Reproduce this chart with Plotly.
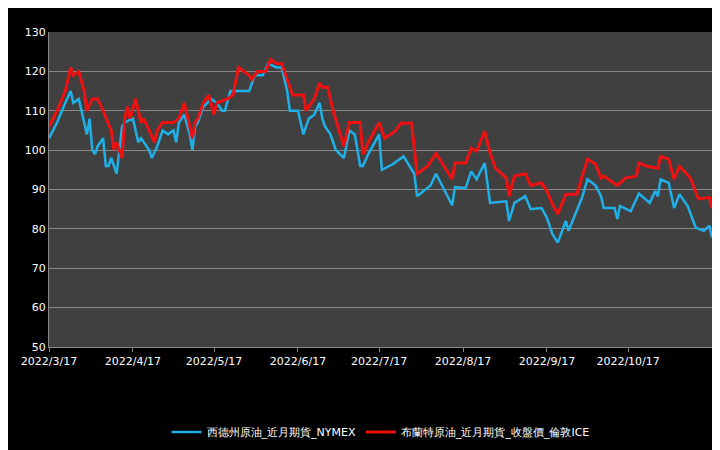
import pandas as pd
import plotly.graph_objects as go

start = pd.Timestamp("2022-03-17")

# WTI (NYMEX) - day offset from 2022/3/17, price
wti_days = [0,3,6,8,9,11,13,14,15,16,17,18,20,21,22,23,25,27,28,31,33,34,37,38,40,42,44,46,47,48,50,52,53,54,55,57,60,62,64,65,67,69,74,76,79,81,84,86,88,89,92,94,96,98,100,101,102,104,106,109,111,113,115,116,118,122,123,127,131,135,136,141,143,149,150,154,156,158,161,163,169,170,172,176,178,182,184,186,188,191,192,197,199,202,204,205,209,210,211,215,218,222,224,225,226,229,231,233,236,239,242,244,245]
wti_vals = [103,107,112,115,112,113,107,104,108,100,99,101,103,96,96,98,94,106,107,108,102,103,100,98,101,105,104,105,102,107,109,104,100,106,107,111,113,112,110,110,115,115,115,119,119,122,121,121,115,110,110,104,108,109,112,108,106,104,100,98,105,104,96,96,99,104,95,96.4,98.4,94,88.3,91,94,86,90.6,90.4,94.6,92.6,96.7,86.6,87,82,86.6,88.3,85,85.3,82.8,78.7,76.5,82,79.5,88,92.6,91,88.3,85.3,85.3,82.5,85.8,84.5,89,86.6,89.6,88.3,92.6,91.7,85.3,88.8,85.8,80.3,79.5,80.8,77.8]

# Brent (ICE)
brent_days = [0,3,6,8,9,11,13,14,16,18,20,23,24,25,27,28,29,30,32,34,35,37,39,40,42,46,48,50,51,53,54,55,57,59,61,62,66,68,70,72,74,75,77,80,82,84,86,88,90,94,95,98,100,101,103,105,109,111,115,116,118,122,124,128,130,134,136,140,143,149,150,154,156,158,161,163,165,169,170,172,176,178,182,184,186,188,191,195,199,202,204,205,210,213,217,218,221,225,226,229,231,233,237,240,244,245]
brent_vals = [106,110,115,121,119,120,115,110,113,113,110,105,100,102,98,108,111,108,113,107,108,105,102,105,107,107,108,112,109,103,107,108,112,114,109,112,113,114,121,120,119,118,120,120,123,122,122,118,114,114,110,113,117,116,116,110,101,107,107,99,102,107,103,104.8,106.8,106.8,94,96,99.2,92.6,96.7,96.7,100.5,99.7,104.8,99.2,95.4,92.9,88.3,93.4,94,91,91.7,89.6,86.3,83.8,88.8,88.8,97.7,96.4,92.9,93.4,91,92.9,93.4,96.7,95.9,95.4,98.4,97.7,92.6,95.9,92.9,87.6,88,85.3]

tick_dates = [pd.Timestamp(2022, m, 17) for m in range(3, 12)]
tick_text = [f"{d.year}/{d.month}/{d.day}" for d in tick_dates]

fig = go.Figure()
fig.add_trace(go.Scatter(x=start + pd.to_timedelta(wti_days, unit="D"), y=wti_vals,
                         mode="lines", name="西德州原油_近月期貨_NYMEX",
                         line=dict(color="#1fb0e8", width=2.5)))
fig.add_trace(go.Scatter(x=start + pd.to_timedelta(brent_days, unit="D"), y=brent_vals,
                         mode="lines", name="布蘭特原油_近月期貨_收盤價_倫敦ICE",
                         line=dict(color="#ee1111", width=3)))

fig.update_layout(
    width=720, height=450,
    paper_bgcolor="black", plot_bgcolor="#404040",
    margin=dict(l=41, r=16, t=24, b=103),
    font=dict(family="DejaVu Sans", color="white", size=11),
    legend=dict(orientation="h", x=0.5, xanchor="center", y=-0.27, yanchor="middle",
                font=dict(size=11), bgcolor="rgba(0,0,0,0)"),
    xaxis=dict(range=[tick_dates[0], tick_dates[-1]], tickvals=tick_dates, ticktext=tick_text,
               showgrid=False, showline=True, linecolor="#888888", ticks="outside",
               tickcolor="#888888", ticklen=4),
    yaxis=dict(range=[50, 130], dtick=10, gridcolor="#8a8a8a", gridwidth=1,
               showline=True, linecolor="#888888", zeroline=False),
)

fig.write_html("out.html")
